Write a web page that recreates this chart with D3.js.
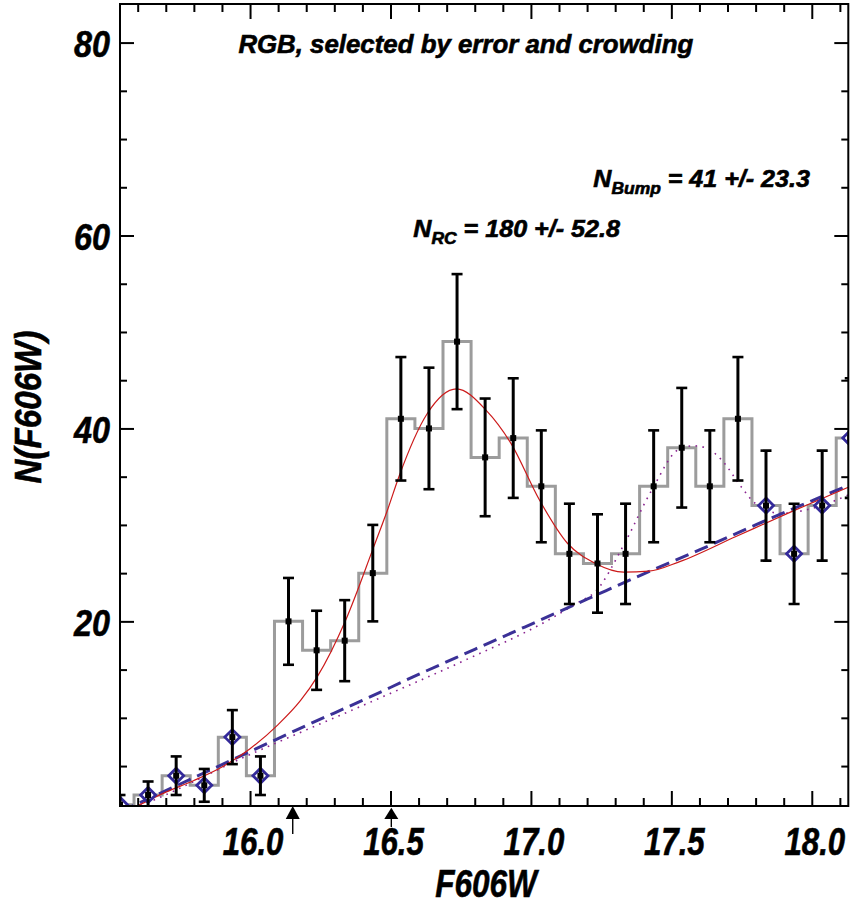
<!DOCTYPE html>
<html>
<head>
<meta charset="utf-8">
<script src="https://cdn.jsdelivr.net/npm/d3@7"></script>
<style>
  html, body { margin: 0; padding: 0; background: #fff; }
  svg { display: block; }
  text { font-family: "Liberation Sans", Arial, sans-serif; font-weight: bold; font-style: italic; fill: #000;
         stroke: #000; stroke-width: 0.6px; }
</style>
</head>
<body>
<svg id="chart" width="852" height="905"></svg>
<script>
// ---- Luminosity function: F606W bins of 0.1 mag ----
const binCenters = [15.537, 15.637, 15.737, 15.837, 15.937, 16.037, 16.137, 16.237, 16.337,
                    16.437, 16.537, 16.637, 16.737, 16.837, 16.937, 17.037, 17.137, 17.237,
                    17.337, 17.437, 17.537, 17.637, 17.737, 17.837, 17.937, 18.037, 18.137];
const counts     = [1, 2, 4, 3, 8, 4, 20, 17, 18, 25, 41, 40, 49, 37, 39, 34, 27, 26,
                    27, 34, 38, 34, 41, 32, 27, 32, 39];
const countErr   = [1.0, 1.4, 2.0, 1.7, 2.8, 2.0, 4.5, 4.1, 4.2, 5.0, 6.4, 6.3, 7.0, 6.1, 6.2, 5.8, 5.2, 5.1,
                    5.2, 5.8, 6.2, 5.8, 6.4, 5.7, 5.2, 5.7, 6.2];
// bins used for the background fit (marked with diamonds)
const bgFitBin   = [1, 1, 1, 1, 1, 1, 0, 0, 0, 0, 0, 0, 0, 0, 0, 0, 0, 0,
                    0, 0, 0, 0, 0, 1, 1, 1, 1];

// ---- Fitted curves ----
// RGB background (dashed)
const bgMag  = [15.54, 15.6, 15.8, 16.0, 16.2, 16.4, 16.6, 16.8, 17.0, 17.2, 17.4, 17.6, 17.8, 18.0, 18.13];
const bgVal  = [0.3, 1.1, 3.8, 6.5, 9.2, 11.8, 14.5, 17.1, 19.7, 22.3, 24.9, 27.4, 30.0, 32.5, 34.1];
// background + red clump (solid red)
const rcMag  = [15.54, 15.6, 15.7, 15.8, 15.9, 16.0, 16.1, 16.18, 16.24, 16.34, 16.44, 16.49, 16.53, 16.63,
                16.735, 16.84, 16.93, 17.03, 17.13, 17.23, 17.33, 17.42, 17.53, 17.73, 17.93, 18.13];
const rcVal  = [0.2, 0.9, 2.3, 3.5, 4.9, 6.8, 9.3, 11.8, 14.3, 20.1, 27.7, 31.6, 35.0, 41.5,
                44.1, 41.9, 38.4, 32.6, 28.1, 26.0, 25.1, 25.2, 26.2, 28.8, 31.4, 33.9];
// background + RGB bump (dotted)
const bumpMag = [15.54, 15.58, 16.0, 16.45, 16.76, 17.06, 17.17, 17.23, 17.33, 17.43, 17.53, 17.58,
                 17.63, 17.68, 17.75, 17.80, 17.89, 18.0, 18.13];
const bumpVal = [0.2, 0.6, 6.2, 11.9, 15.9, 20.1, 22.0, 23.1, 27.9, 33.6, 37.9, 38.2,
                 37.9, 36.7, 33.9, 32.2, 31.2, 31.7, 33.1];

// magnitude limits marked below the axis
const limitMags = [16.152, 16.503];

// ---- Axis ticks ----
const xMajor = [16.0, 16.5, 17.0, 17.5, 18.0];
const xMinor = [15.6, 15.7, 15.8, 15.9, 16.1, 16.2, 16.3, 16.4, 16.6, 16.7, 16.8, 16.9,
                17.1, 17.2, 17.3, 17.4, 17.6, 17.7, 17.8, 17.9, 18.1];
const yMajor = [20, 40, 60, 80];
const yMinor = [5, 10, 15, 25, 30, 35, 45, 50, 55, 65, 70, 75];

const titleText = "RGB, selected by error and crowding";
const xTitle = "F606W";
const yTitle = "N(F606W)";

// ---- Layout ----
const svg = d3.select("#chart");
const L = 120, R = 848.3, T = 4, B = 806;
const x = d3.scaleLinear().domain([15.537, 18.13]).range([L, R]);
const y = d3.scaleLinear().domain([0.86, 84]).range([B, T]);

svg.append("defs").append("clipPath").attr("id", "plotClip")
  .append("rect").attr("x", L).attr("y", T).attr("width", R - L).attr("height", B - T);

const plot = svg.append("g").attr("clip-path", "url(#plotClip)");

const bins = binCenters.map((m, i) => ({ m, n: counts[i], e: countErr[i], bg: bgFitBin[i] === 1 }));

// histogram outline
plot.append("path")
  .datum(bins)
  .attr("fill", "none")
  .attr("stroke", "#9c9c9c")
  .attr("stroke-width", 3)
  .attr("d", d3.line().x(d => x(d.m)).y(d => y(d.n)).curve(d3.curveStep));

// curves
const curve = (mags, vals) => d3.line().x((d, i) => x(mags[i])).y((d, i) => y(vals[i])).curve(d3.curveMonotoneX)(mags);

plot.append("path")
  .attr("d", curve(bumpMag, bumpVal))
  .attr("fill", "none").attr("stroke", "#8a2490").attr("stroke-width", 1.6)
  .attr("stroke-dasharray", "1.6,5.4");

plot.append("path")
  .attr("d", curve(bgMag, bgVal))
  .attr("fill", "none").attr("stroke", "#3b3197").attr("stroke-width", 3)
  .attr("stroke-dasharray", "14,7");

plot.append("path")
  .attr("d", curve(rcMag, rcVal))
  .attr("fill", "none").attr("stroke", "#cc1a1a").attr("stroke-width", 1.2);

// diamonds for background-fit bins
plot.selectAll("path.diamond")
  .data(bins.filter(d => d.bg))
  .join("path")
  .attr("class", "diamond")
  .attr("transform", d => `translate(${x(d.m)},${y(d.n)})`)
  .attr("d", "M0,-7.5L7.5,0L0,7.5L-7.5,0Z")
  .attr("fill", "#fff")
  .attr("stroke", "#33299a")
  .attr("stroke-width", 2.8);

// error bars
const eb = plot.selectAll("g.err").data(bins).join("g").attr("class", "err");
eb.append("line")
  .attr("x1", d => x(d.m)).attr("x2", d => x(d.m))
  .attr("y1", d => y(d.n - d.e)).attr("y2", d => y(d.n + d.e))
  .attr("stroke", "#000").attr("stroke-width", 3);
eb.append("line")
  .attr("x1", d => x(d.m) - 5.5).attr("x2", d => x(d.m) + 5.5)
  .attr("y1", d => y(d.n + d.e)).attr("y2", d => y(d.n + d.e))
  .attr("stroke", "#000").attr("stroke-width", 2.6);
eb.append("line")
  .attr("x1", d => x(d.m) - 5.5).attr("x2", d => x(d.m) + 5.5)
  .attr("y1", d => y(d.n - d.e)).attr("y2", d => y(d.n - d.e))
  .attr("stroke", "#000").attr("stroke-width", 2.6);
eb.append("rect")
  .attr("x", d => x(d.m) - 3).attr("y", d => y(d.n) - 3)
  .attr("width", 6).attr("height", 6).attr("fill", "#000");

// ---- Axes (ticks point inward on all four sides) ----
function styleAxis(g) {
  g.select(".domain").remove();
  g.selectAll(".tick line").attr("stroke", "#000").attr("stroke-width", 2);
}
const noLabel = () => "";

svg.append("g").attr("transform", `translate(0,${B})`)
  .call(d3.axisBottom(x).tickValues(xMinor).tickSize(-8).tickSizeOuter(0).tickFormat(noLabel)).call(styleAxis);
svg.append("g").attr("transform", `translate(0,${T})`)
  .call(d3.axisTop(x).tickValues(xMinor).tickSize(-8).tickSizeOuter(0).tickFormat(noLabel)).call(styleAxis);
svg.append("g").attr("transform", `translate(0,${T})`)
  .call(d3.axisTop(x).tickValues(xMajor).tickSize(-15).tickSizeOuter(0).tickFormat(noLabel)).call(styleAxis);
svg.append("g").attr("transform", `translate(${L},0)`)
  .call(d3.axisLeft(y).tickValues(yMinor).tickSize(-7).tickSizeOuter(0).tickFormat(noLabel)).call(styleAxis);
svg.append("g").attr("transform", `translate(${R},0)`)
  .call(d3.axisRight(y).tickValues(yMinor).tickSize(-7).tickSizeOuter(0).tickFormat(noLabel)).call(styleAxis);
svg.append("g").attr("transform", `translate(${R},0)`)
  .call(d3.axisRight(y).tickValues(yMajor).tickSize(-14).tickSizeOuter(0).tickFormat(noLabel)).call(styleAxis);

const xAxis = svg.append("g").attr("transform", `translate(0,${B})`)
  .call(d3.axisBottom(x).tickValues(xMajor).tickSize(-15).tickSizeOuter(0).tickFormat(d3.format(".1f")))
  .call(styleAxis);
const yAxis = svg.append("g").attr("transform", `translate(${L},0)`)
  .call(d3.axisLeft(y).tickValues(yMajor).tickSize(-14).tickSizeOuter(0).tickFormat(d3.format("d")))
  .call(styleAxis);

// condensed bold-oblique labels: horizontal scale chosen from a reference width
function condense(refNode, targetWidth) {
  return targetWidth / refNode.getComputedTextLength();
}

const xt = xAxis.selectAll(".tick text")
  .attr("font-family", null).attr("font-size", null)
  .style("font-size", "38px").attr("fill", "#000")
  .attr("x", null).attr("y", null).attr("dy", null)
  .attr("text-anchor", "middle");
const sx = condense(xt.node(), 60.7);
xt.attr("transform", `translate(2.5,49) scale(${sx},1)`);

const yt = yAxis.selectAll(".tick text")
  .attr("font-family", null).attr("font-size", null)
  .style("font-size", "37px").attr("fill", "#000")
  .attr("x", null).attr("y", null).attr("dy", null)
  .attr("text-anchor", "end");
const sy = condense(yt.node(), 36);
yt.attr("transform", `translate(-10,14) scale(${sy},1)`);

// plot frame
svg.append("rect")
  .attr("x", L).attr("y", T).attr("width", R - L).attr("height", B - T)
  .attr("fill", "none").attr("stroke", "#000").attr("stroke-width", 2);

// limit arrows below the x axis
const arrowTip = [806, 807.7], arrowTail = [834, 827];
limitMags.forEach((m, i) => {
  const px = x(m);
  svg.append("path")
    .attr("d", `M${px},${arrowTip[i]}L${px - 7},819L${px + 7},819Z`)
    .attr("fill", "#000");
  svg.append("line")
    .attr("x1", px).attr("x2", px).attr("y1", 819).attr("y2", arrowTail[i])
    .attr("stroke", "#000").attr("stroke-width", 1.4);
});

// ---- Text ----
function placeText(g, x0, y0, anchor, targetWidth, extra) {
  const s = targetWidth / g.node().getComputedTextLength();
  g.attr("text-anchor", anchor).attr("transform", `translate(${x0},${y0}) ${extra || ""} scale(${s},1)`);
}

const title = svg.append("text").style("font-size", "25.5px").text(titleText);
placeText(title, 465.8, 53.3, "middle", 455);

const xLab = svg.append("text").style("font-size", "39px").text(xTitle);
placeText(xLab, 486, 896.7, "middle", 101.7);

const yLab = svg.append("text").style("font-size", "37px").text(yTitle);
placeText(yLab, 41, 407, "middle", 153, "rotate(-90)");

const nBump = svg.append("text").style("font-size", "23px");
nBump.append("tspan").text("N");
nBump.append("tspan").style("font-size", "16px").attr("dy", 6.5).text("Bump");
nBump.append("tspan").attr("dy", -6.5).text(" = 41 +/- 23.3");
placeText(nBump, 593.3, 187, "start", 216.7);

const nRC = svg.append("text").style("font-size", "23px");
nRC.append("tspan").text("N");
nRC.append("tspan").style("font-size", "16px").attr("dy", 7).text("RC");
nRC.append("tspan").attr("dy", -7).text(" = 180 +/- 52.8");
placeText(nRC, 413.3, 237, "start", 206.7);
</script>
</body>
</html>
